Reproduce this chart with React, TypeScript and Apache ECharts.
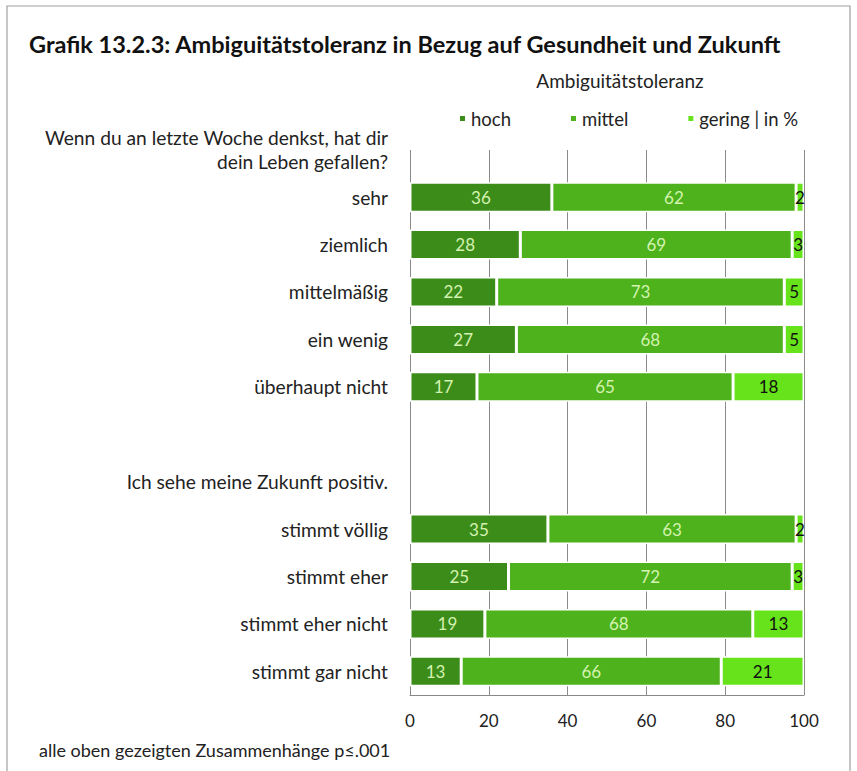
import React, { useEffect, useRef } from "react";
import * as echarts from "echarts";

const categories = [
  "Wenn du an letzte Woche denkst, hat dir\ndein Leben gefallen?",
  "sehr",
  "ziemlich",
  "mittelmäßig",
  "ein wenig",
  "überhaupt nicht",
  " ",
  "Ich sehe meine Zukunft positiv.",
  "stimmt völlig",
  "stimmt eher",
  "stimmt eher nicht",
  "stimmt gar nicht",
];
const hoch = [null, 36, 28, 22, 27, 17, null, null, 35, 25, 19, 13];
const mittel = [null, 62, 69, 73, 68, 65, null, null, 63, 72, 68, 66];
const gering = [null, 2, 3, 5, 5, 18, null, null, 2, 3, 13, 21];
const xTicks = [0, 20, 40, 60, 80, 100];

const FONT = "Lato, 'Open Sans', sans-serif";

export default function App() {
  const ref = useRef<HTMLDivElement>(null);
  useEffect(() => {
    document.body.style.margin = "0";
    const chart = echarts.init(ref.current!, null, { renderer: "svg" });
    const mk = (name: string, data: (number | null)[], color: string, labelColor: string) => ({
      name,
      type: "bar",
      stack: "s",
      data,
      barWidth: 30,
      xAxisIndex: 0,
      yAxisIndex: 0,
      itemStyle: { color, borderColor: "#ffffff", borderWidth: 1.5 },
      label: {
        show: true,
        position: "inside",
        color: labelColor,
        fontSize: 17,
        fontFamily: FONT,
        formatter: (p: any) => (p.value == null ? "" : String(p.value)),
      },
    });
    chart.setOption({
      animation: false,
      textStyle: { fontFamily: FONT },
      title: [
        {
          text: "Grafik 13.2.3: Ambiguitätstoleranz in Bezug auf Gesundheit und Zukunft",
          left: 24,
          top: 27,
          textStyle: { fontSize: 23.5, fontWeight: "bold", color: "#111", fontFamily: FONT },
        },
        {
          text: "Ambiguitätstoleranz",
          left: 615,
          textAlign: "center",
          top: 66,
          textStyle: { fontSize: 19, fontWeight: "normal", color: "#222", fontFamily: FONT },
        },
        {
          text: "alle oben gezeigten Zusammenhänge p≤.001",
          left: 34,
          top: 736,
          textStyle: { fontSize: 18, fontWeight: "normal", color: "#222", fontFamily: FONT },
        },
      ],
      legend: {
        left: 453,
        top: 104,
        icon: "rect",
        itemWidth: 7,
        itemHeight: 7,
        itemGap: 58,
        textStyle: { fontSize: 18.5, color: "#222", fontFamily: FONT },
        data: ["hoch", "mittel", "gering | in %"],
      },
      grid: [
        { left: 410, right: 53, top: 126, bottom: 76 },
        { left: 410, right: 53, top: 150, bottom: 76 },
      ],
      xAxis: [
        {
          type: "value",
          gridIndex: 0,
          min: 0,
          max: 100,
          interval: 20,
          axisLine: { show: true, lineStyle: { color: "#888", width: 1 } },
          axisTick: { show: false },
          splitLine: { show: false },
          axisLabel: {
            fontSize: 17,
            color: "#222",
            margin: 17,
            fontFamily: FONT,
            formatter: (v: number) => (xTicks.includes(v) ? String(v) : ""),
          },
        },
        {
          type: "value",
          gridIndex: 1,
          min: 0,
          max: 100,
          interval: 20,
          axisLine: { show: false },
          axisTick: { show: false },
          axisLabel: { show: false },
          splitLine: { show: true, lineStyle: { color: "#8a8a8a", width: 1 } },
          z: 0,
        },
      ],
      yAxis: [
        {
          type: "category",
          gridIndex: 0,
          inverse: true,
          data: categories,
          axisLine: { show: false },
          axisTick: { show: false },
          axisLabel: {
            fontSize: 19.2,
            color: "#222",
            margin: 22,
            align: "right",
            lineHeight: 24,
            fontFamily: FONT,
          },
        },
        {
          type: "value",
          gridIndex: 1,
          show: false,
          splitLine: { show: false },
        },
      ],
      series: [
        mk("hoch", hoch, "#3c8c1a", "#d4f2b0"),
        mk("mittel", mittel, "#4db21b", "#d4f2b0"),
        mk("gering | in %", gering, "#66e31a", "#111"),
      ],
      graphic: [
        {
          type: "rect",
          shape: { x: 7, y: 6, width: 843, height: 820 },
          style: { fill: "none", stroke: "#a0a0a0", lineWidth: 1.2 },
          silent: true,
        },
      ],
    });
    return () => chart.dispose();
  }, []);
  return <div ref={ref} style={{ width: 857, height: 771 }} />;
}
